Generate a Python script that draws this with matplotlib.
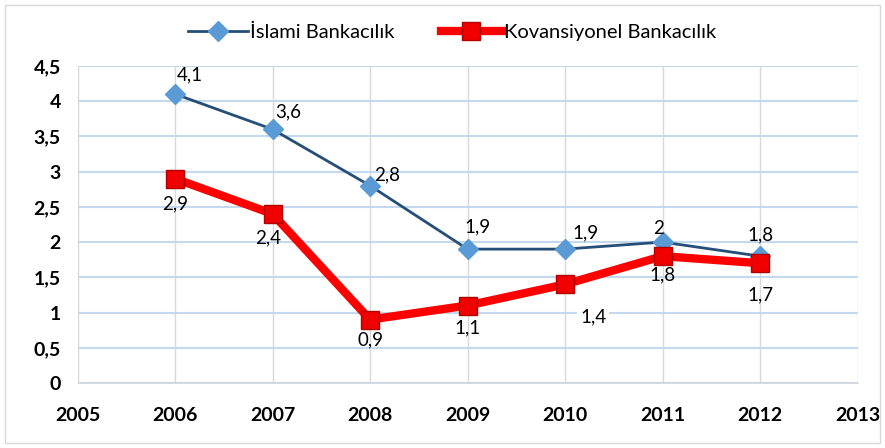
import matplotlib.pyplot as plt
from matplotlib.patches import Rectangle

plt.rcParams['font.family'] = ['Lato', 'DejaVu Sans']

# veri
years = [2006, 2007, 2008, 2009, 2010, 2011, 2012]
islami = [4.1, 3.6, 2.8, 1.9, 1.9, 2.0, 1.8]
konv = [2.9, 2.4, 0.9, 1.1, 1.4, 1.8, 1.7]
islami_lbl = ['4,1', '3,6', '2,8', '1,9', '1,9', '2', '1,8']
konv_lbl = ['2,9', '2,4', '0,9', '1,1', '1,4', '1,8', '1,7']
xticks = list(range(2005, 2014))
yticks = [0, 0.5, 1, 1.5, 2, 2.5, 3, 3.5, 4, 4.5]
ytick_lbl = ['0', '0,5', '1', '1,5', '2', '2,5', '3', '3,5', '4', '4,5']

# etiket kaydirmalari (piksel)
islami_off = [(15, 19), (16, 17), (17, 11), (10, 22), (20, 16), (-4, 14), (0, 21)]
konv_off = [(0, -25), (-4, -24), (0, -20), (0, -22), (28, -33), (0, -19), (0, -32)]

fig = plt.figure(figsize=(8.85, 4.48), dpi=100)
fig.patches.append(Rectangle((0.006, 0.011), 0.988, 0.978, transform=fig.transFigure,
                             fill=False, edgecolor='#D9D9D9', linewidth=1))
ax = fig.add_axes([0.0876, 0.145, 0.8814, 0.708])

ax.plot(years, islami, color='#254E78', linewidth=2, marker='D', markersize=10.5,
        markerfacecolor='#5B9BD5', markeredgecolor='#5B9BD5', label='İslami Bankacılık', zorder=3)
ax.plot(years, konv, color='#FF0000', linewidth=6, marker='s', markersize=13,
        markerfacecolor='#F00000', markeredgecolor='#B00000', markeredgewidth=1,
        label='Kovansiyonel Bankacılık', zorder=4)

for x, y, t, o in zip(years, islami, islami_lbl, islami_off):
    ax.annotate(t, (x, y), xytext=o, textcoords='offset pixels', ha='center', va='center',
                fontsize=13.5, color='black', zorder=5)
for x, y, t, o in zip(years, konv, konv_lbl, konv_off):
    ax.annotate(t, (x, y), xytext=o, textcoords='offset pixels', ha='center', va='center',
                fontsize=13.5, color='black', zorder=5,
                bbox=dict(boxstyle='square,pad=0.15', fc='white', ec='none') if t == '1,4' else None)

ax.set_xlim(2005, 2013)
ax.set_ylim(0, 4.5)
ax.set_xticks(xticks)
ax.set_yticks(yticks)
ax.set_yticklabels(ytick_lbl)
ax.tick_params(length=0)
ax.tick_params(axis='x', pad=17)
ax.tick_params(axis='y', pad=12)
for lab in ax.get_xticklabels() + ax.get_yticklabels():
    lab.set_fontweight('bold')
    lab.set_fontsize(14)

ax.grid(axis='y', color='#C5D9EE', linewidth=1.5)
ax.grid(axis='x', color='#D9D9D9', linewidth=1)
ax.set_axisbelow(True)
for s in ['top', 'right']:
    ax.spines[s].set_visible(False)
for s in ['left', 'bottom']:
    ax.spines[s].set_color('#D9D9D9')

ax.legend(loc='lower center', bbox_to_anchor=(0.48, 1.02), ncol=2, frameon=False,
          fontsize=14.5, handlelength=3.0, handletextpad=0.1, columnspacing=2.3)

fig.savefig('out.png', dpi=100)
